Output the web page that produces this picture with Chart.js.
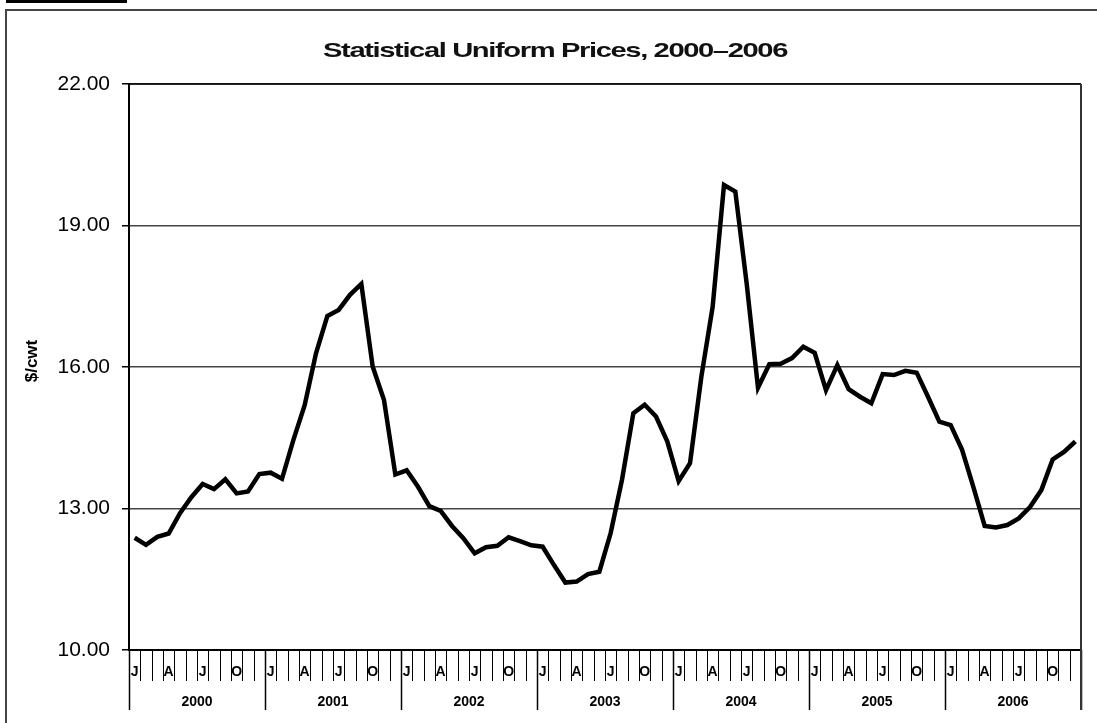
<!DOCTYPE html>
<html>
<head>
<meta charset="utf-8">
<script src="https://cdn.jsdelivr.net/npm/chart.js@4"></script>
<style>
  body { margin: 0; background: #fff; }
  canvas { display: block; }
</style>
</head>
<body>
<canvas id="myChart" width="1097" height="723"></canvas>
<script>
'use strict';

// ***** DATA *****
var years = ['2000', '2001', '2002', '2003', '2004', '2005', '2006'];
var monthNames = ['Jan', 'Feb', 'Mar', 'Apr', 'May', 'Jun', 'Jul', 'Aug', 'Sep', 'Oct', 'Nov', 'Dec'];
var monthTicks = ['J', '', '', 'A', '', '', 'J', '', '', 'O', '', ''];
var prices = [
   12.38, 12.23, 12.40, 12.47, 12.90, 13.24, 13.52, 13.41, 13.62, 13.32, 13.36, 13.73, // 2000
   13.76, 13.63, 14.45, 15.19, 16.29, 17.08, 17.21, 17.53, 17.76, 16.01, 15.30, 13.72, // 2001
   13.81, 13.46, 13.05, 12.95, 12.63, 12.37, 12.05, 12.18, 12.21, 12.39, 12.31, 12.22, // 2002
   12.19, 11.80, 11.43, 11.45, 11.61, 11.66, 12.48, 13.61, 15.02, 15.20, 14.95, 14.42, // 2003
   13.58, 13.96, 15.79, 17.28, 19.86, 19.72, 17.77, 15.56, 16.06, 16.07, 16.19, 16.43, // 2004
   16.30, 15.51, 16.04, 15.53, 15.37, 15.23, 15.85, 15.83, 15.92, 15.88, 15.37, 14.84, // 2005
   14.77, 14.25, 13.46, 12.63, 12.60, 12.65, 12.79, 13.03, 13.39, 14.04, 14.20, 14.42  // 2006
];
var yTicks = [10, 13, 16, 19, 22];
var title = 'Statistical Uniform Prices, 2000\u20132006';
var yTitle = '$/cwt';

var FONT = "'Liberation Sans', Arial, sans-serif";

// one label per month
var labels = [];
years.forEach(function (y) {
   monthNames.forEach(function (m) { labels.push(m + ' ' + y); });
});

// ***** DECORATION: frame, title, month/year axis *****
var decor = {
   id: 'decor',
   beforeDraw: function (chart) {
      var ctx = chart.ctx;
      ctx.save();
      ctx.fillStyle = '#fff';
      ctx.fillRect(0, 0, chart.width, chart.height);
      ctx.fillStyle = '#000';
      ctx.fillRect(6, 0, 121, 3);
      ctx.strokeStyle = '#444';
      ctx.lineWidth = 2;
      ctx.beginPath();
      ctx.moveTo(6, chart.height);
      ctx.lineTo(6, 10);
      ctx.lineTo(chart.width, 10);
      ctx.stroke();
      ctx.restore();
   },
   afterDraw: function (chart) {
      var ctx = chart.ctx;
      var a = chart.chartArea;
      var x = chart.scales.x;
      var w = x.getPixelForValue(1) - x.getPixelForValue(0);
      var edge = function (i) { return x.getPixelForValue(i) - w / 2; };

      ctx.save();

      // month + year dividers under the axis
      ctx.strokeStyle = '#000';
      for (var i = 0; i <= prices.length; i++) {
         var px = Math.round(edge(i)) + 0.5;
         var isYear = i % 12 === 0;
         ctx.lineWidth = isYear ? 1.5 : 1;
         ctx.beginPath();
         ctx.moveTo(px, a.bottom);
         ctx.lineTo(px, isYear ? 710 : 681);
         ctx.stroke();
      }

      // year labels
      ctx.fillStyle = '#000';
      ctx.font = 'bold 14px ' + FONT;
      ctx.textAlign = 'center';
      ctx.textBaseline = 'alphabetic';
      years.forEach(function (y, k) {
         var cx = (edge(k * 12) + edge(k * 12 + 12)) / 2;
         ctx.fillText(y, cx, 706);
      });

      // plot frame top + right
      ctx.strokeStyle = '#000';
      ctx.lineWidth = 1.5;
      ctx.beginPath();
      ctx.moveTo(a.left, a.top);
      ctx.lineTo(a.right, a.top);
      ctx.stroke();
      ctx.strokeStyle = '#333';
      ctx.lineWidth = 2;
      ctx.beginPath();
      ctx.moveTo(a.right, a.top);
      ctx.lineTo(a.right, 710);
      ctx.stroke();

      // title, wide and tightly spaced like the original
      ctx.font = 'bold 21px ' + FONT;
      ctx.textAlign = 'left';
      ctx.letterSpacing = '-1px';
      var tw = ctx.measureText(title).width;
      var sx = 464 / tw;
      ctx.save();
      ctx.translate(323, 57);
      ctx.scale(sx, 1);
      ctx.fillStyle = '#111';
      ctx.fillText(title, 0, 0);
      ctx.restore();
      ctx.letterSpacing = '0px';

      // y axis title
      ctx.save();
      ctx.translate(37, 361);
      ctx.rotate(-Math.PI / 2);
      ctx.font = 'bold 17px ' + FONT;
      ctx.textAlign = 'center';
      ctx.textBaseline = 'alphabetic';
      ctx.fillText(yTitle, 0, 0);
      ctx.restore();

      ctx.restore();
   }
};

var ctx = document.getElementById('myChart');
var myChart = new Chart(ctx, {
   type: 'line',
   data: {
      labels: labels,
      datasets: [{
         data: prices,
         borderColor: '#000',
         borderWidth: 4.5,
         pointRadius: 0,
         tension: 0,
         fill: false
      }]
   },
   options: {
      responsive: false,
      animation: false,
      layout: { padding: { left: 6, top: 84, right: 16, bottom: 0 } },
      plugins: {
         legend: { display: false },
         tooltip: { enabled: false }
      },
      scales: {
         x: {
            offset: true,
            grid: { display: false, drawTicks: false },
            border: { color: '#000', width: 2 },
            ticks: {
               autoSkip: false,
               maxRotation: 0,
               padding: 14,
               color: '#000',
               font: { family: FONT, size: 14, weight: 'bold' },
               callback: function (v, i) { return monthTicks[i % 12]; }
            },
            afterFit: function (s) { s.height = 73; }
         },
         y: {
            min: yTicks[0],
            max: yTicks[yTicks.length - 1],
            afterBuildTicks: function (s) {
               s.ticks = yTicks.map(function (v) { return { value: v }; });
            },
            ticks: {
               padding: 12,
               color: '#000',
               font: { family: FONT, size: 21 },
               callback: function (v) { return Number(v).toFixed(2); }
            },
            grid: { color: '#444', lineWidth: 1.5, tickLength: 7, tickColor: '#000', tickWidth: 1.5 },
            border: { color: '#000', width: 2 },
            afterFit: function (s) { s.width = 123; }
         }
      }
   },
   plugins: [decor]
});
</script>
</body>
</html>
